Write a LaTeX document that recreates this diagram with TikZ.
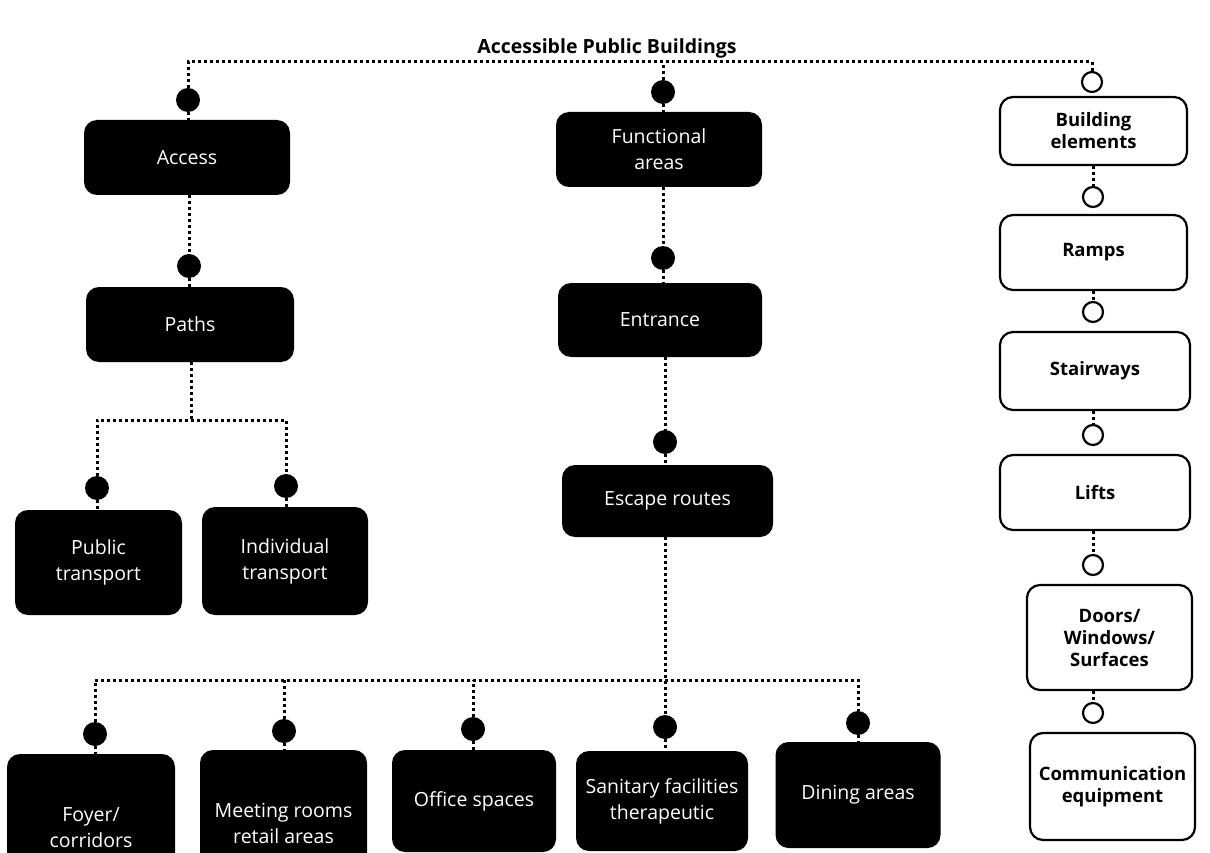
\documentclass[tikz,border=0pt]{standalone}
\usepackage{fontspec}
\setmainfont{Open Sans}
\begin{document}
\begin{tikzpicture}[x=1pt,y=-1pt,
  blk/.style={fill=black, rounded corners=13pt, text=white, align=center,
    font=\fontsize{19.5}{26}\selectfont, inner sep=0pt},
  wht/.style={draw=black, line width=2.2pt, fill=white, rounded corners=13pt,
    align=center, font=\fontsize{18.5}{22}\selectfont\bfseries, inner sep=0pt},
  fdot/.style={circle, fill=black, minimum size=24pt, inner sep=0pt},
  hdot/.style={circle, draw=black, fill=white, line width=2.2pt, minimum size=20pt, inner sep=0pt},
  dl/.style={line width=3pt, dash pattern=on 3pt off 3pt}]
\useasboundingbox (0,0) rectangle (1210,853);

\node[font=\fontsize{19.5}{23}\selectfont\bfseries] (title) at (607,48) {Accessible Public Buildings};

% left column
\node[fdot] (accd) at (188,100) {};
\node[blk, minimum width=206, minimum height=75] (access) at (187,157.5) {Access};
\node[fdot] (pathd) at (189,266) {};
\node[blk, minimum width=208, minimum height=75] (paths) at (190,324.5) {Paths};
\coordinate (pj) at (191,420);
\node[fdot] (ptd) at (97,488) {};
\node[blk, minimum width=167, minimum height=105] (pt) at (98.5,562.5) {Public\\transport};
\node[fdot] (itd) at (286,486) {};
\node[blk, minimum width=166, minimum height=108] (it) at (285,561) {Individual\\transport};

% middle column
\node[fdot] (fad) at (663,92) {};
\node[blk, minimum width=206, minimum height=75] (fa) at (659,149.5) {Functional\\areas};
\node[fdot] (end) at (663,258) {};
\node[blk, minimum width=204, minimum height=74] (ent) at (660,320) {Entrance};
\node[fdot] (esd) at (665,442) {};
\node[blk, minimum width=211, minimum height=72] (esc) at (667.5,501) {Escape routes};
\coordinate (bj) at (665,680);

% bottom row
\node[fdot] (d1) at (95,734) {};
\node[blk, minimum width=168, minimum height=148] (foyer) at (91,828) {Foyer/\\corridors};
\node[fdot] (d2) at (284,731) {};
\node[blk, minimum width=167, minimum height=146] (meet) at (283.5,823) {Meeting rooms\\retail areas};
\node[fdot] (d3) at (473,729) {};
\node[blk, minimum width=164, minimum height=102] (office) at (474,801) {Office spaces};
\node[fdot] (d4) at (665,727) {};
\node[blk, minimum width=172, minimum height=100] (san) at (662,801) {Sanitary facilities\\therapeutic};
\node[fdot] (d5) at (858,723) {};
\node[blk, minimum width=165, minimum height=106] (dine) at (858,795) {Dining areas};

% right column
\coordinate (tr) at (1092,62);
\node[hdot] (c1) at (1092,82) {};
\node[wht, minimum width=187, minimum height=68] (be) at (1093.5,131) {Building\\elements};
\node[hdot] (c2) at (1093,197) {};
\node[wht, minimum width=187, minimum height=75] (ramps) at (1093.5,252.5) {Ramps};
\node[hdot] (c3) at (1093,312) {};
\node[wht, minimum width=190, minimum height=78] (stairs) at (1095,371) {Stairways};
\node[hdot] (c4) at (1093,435) {};
\node[wht, minimum width=190, minimum height=75] (lifts) at (1095,492.5) {Lifts};
\node[hdot] (c5) at (1093,565) {};
\node[wht, minimum width=165, minimum height=105] (doors) at (1109.5,637.5) {Doors/\\Windows/\\Surfaces};
\node[hdot] (c6) at (1093,713) {};
\node[wht, minimum width=165, minimum height=107] (comm) at (1112.5,786.5) {Communication\\equipment};

% top connectors
\draw[dl] (accd.north) -- (accd.north |- tr) -- (tr) -- (c1.north);
\draw[dl] (fad.north) -- (fad.north |- tr);

% left column connectors
\draw[dl] (accd.south) -- (accd.south |- access.north);
\draw[dl] (pathd.north |- access.south) -- (pathd.north);
\draw[dl] (pathd.south) -- (pathd.south |- paths.north);
\draw[dl] (pj |- paths.south) -- (pj);
\draw[dl] (ptd.north) |- (pj) -| (itd.north);
\draw[dl] (ptd.south) -- (ptd.south |- pt.north);
\draw[dl] (itd.south) -- (itd.south |- it.north);

% middle column connectors
\draw[dl] (fad.south) -- (fad.south |- fa.north);
\draw[dl] (end.north |- fa.south) -- (end.north);
\draw[dl] (end.south) -- (end.south |- ent.north);
\draw[dl] (esd.north |- ent.south) -- (esd.north);
\draw[dl] (esd.south) -- (esd.south |- esc.north);
\draw[dl] (d4.north |- esc.south) -- (d4.north);
\draw[dl] (d1.north) |- (bj) -| (d5.north);
\draw[dl] (d2.north) -- (d2.north |- bj);
\draw[dl] (d3.north) -- (d3.north |- bj);
\draw[dl] (d1.south) -- (d1.south |- foyer.north);
\draw[dl] (d2.south) -- (d2.south |- meet.north);
\draw[dl] (d3.south) -- (d3.south |- office.north);
\draw[dl] (d4.south) -- (d4.south |- san.north);
\draw[dl] (d5.south) -- (d5.south |- dine.north);

% right column connectors
\draw[dl] (c2.north |- be.south) -- (c2.north);
\draw[dl] (c3.north |- ramps.south) -- (c3.north);
\draw[dl] (c4.north |- stairs.south) -- (c4.north);
\draw[dl] (c5.north |- lifts.south) -- (c5.north);
\draw[dl] (c6.north |- doors.south) -- (c6.north);
\end{tikzpicture}
\end{document}
